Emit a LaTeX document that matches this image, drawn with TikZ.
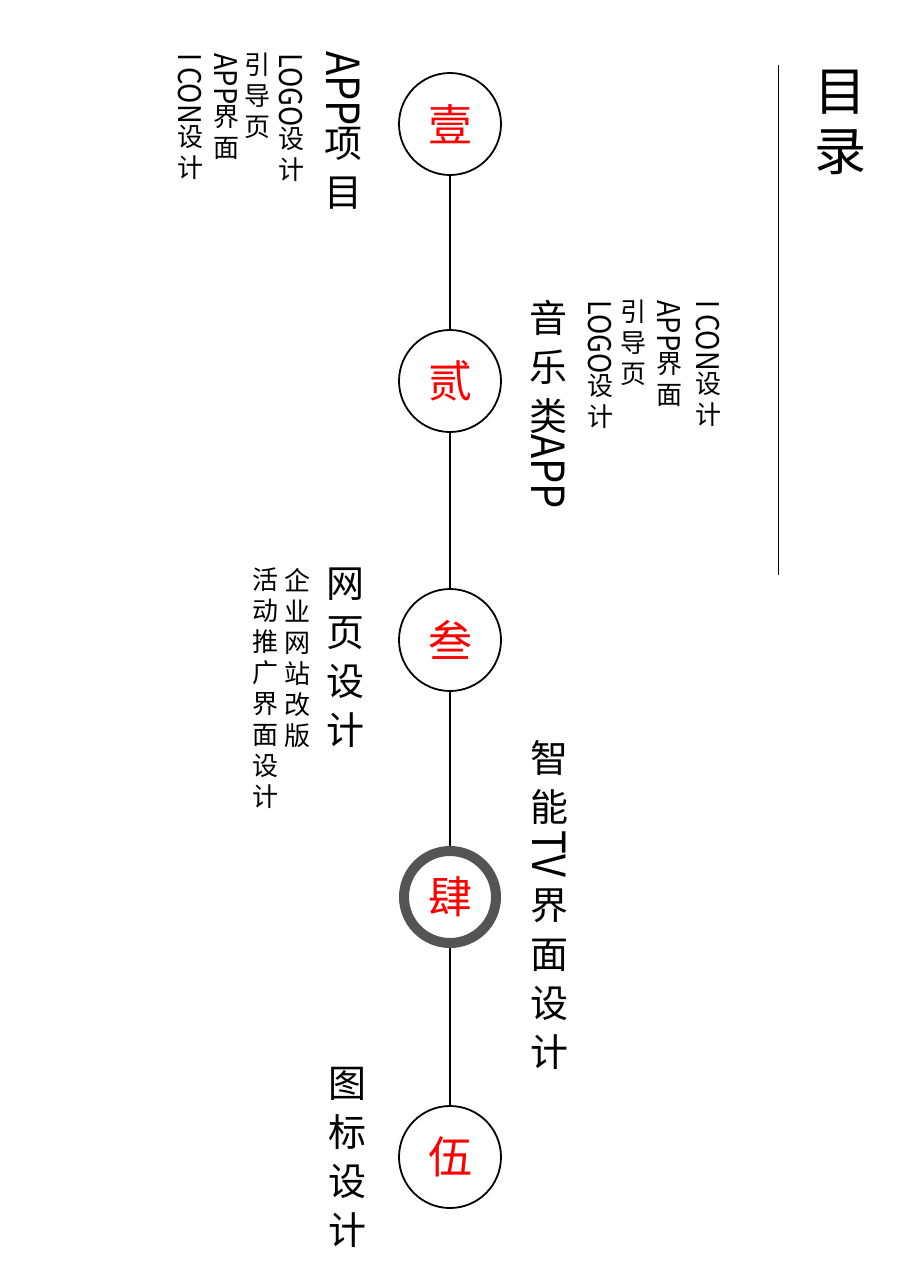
\documentclass[tikz,border=0pt]{standalone}
\usepackage{fontspec}
\newfontfamily\cjk{Noto Sans CJK SC}
\newcommand{\lat}[1]{\rotatebox[origin=c]{-90}{\scalebox{1.05}[1.2]{#1}}}

\begin{document}
\begin{tikzpicture}[x=1pt, y=-1pt,
    every node/.style={inner sep=0pt, font=\cjk},
    stage/.style={circle, draw, line width=1.8pt, minimum size=102pt, text=red, font=\cjk\fontsize{44}{44}\selectfont},
    current/.style={stage, draw=black!67, line width=10pt, minimum size=92pt},
    title/.style={anchor=north, align=center, font=\cjk\fontsize{38}{49}\selectfont},
    item/.style={anchor=north, align=center, font=\cjk\fontsize{26}{31}\selectfont}]
    \useasboundingbox (0,0) rectangle (900,1280);
    % table of contents heading
    \node[anchor=north, align=center, font=\cjk\fontsize{52}{60}\selectfont] (toc) at (840,70) {目\\录};
    \coordinate (rule_top) at (778,65);
    \coordinate (rule_bottom) at (778,575);
    \draw[line width=1pt] (rule_top) -- (rule_bottom);
    % the five stages on the time line
    \foreach \n/\y/\t/\s in {1/124/壹/stage,2/381/贰/stage,3/640/叁/stage,4/897/肆/current,5/1157/伍/stage} {
        \node[\s] (stage_\n) at (450,\y) {\t};
    }
    \foreach \a/\b in {1/2,2/3,3/4,4/5} {
        \draw[line width=1.8pt] (stage_\a) -- (stage_\b);
    }
    % stage titles
    \node[title] (title_1) at (343,51) {\lat{APP}\\项\\目};
    \node[title] (title_2) at (548,300) {音\\乐\\类\\\lat{APP}};
    \node[title] (title_3) at (345,568) {网\\页\\设\\计};
    \node[title] (title_4) at (549,740) {智\\能\\\lat{TV}\\界\\面\\设\\计};
    \node[title] (title_5) at (347,1067) {图\\标\\设\\计};
    % sub items
    \foreach \x/\t [count=\i] in {291/{\lat{LOGO}\\设\\计},257/{引\\导\\页},226/{\lat{APP}\\界\\面},190/{\lat{I CON}\\设\\计}} {
        \node[item] (item_1_\i) at (\x,53) {\t};
    }
    \foreach \x/\t [count=\i] in {600/{\lat{LOGO}\\设\\计},633/{引\\导\\页},669/{\lat{APP}\\界\\面},708/{\lat{I CON}\\设\\计}} {
        \node[item] (item_2_\i) at (\x,300) {\t};
    }
    \node[item] (item_3_1) at (297,568) {企\\业\\网\\站\\改\\版};
    \node[item] (item_3_2) at (265,568) {活\\动\\推\\广\\界\\面\\设\\计};
\end{tikzpicture}
\end{document}
